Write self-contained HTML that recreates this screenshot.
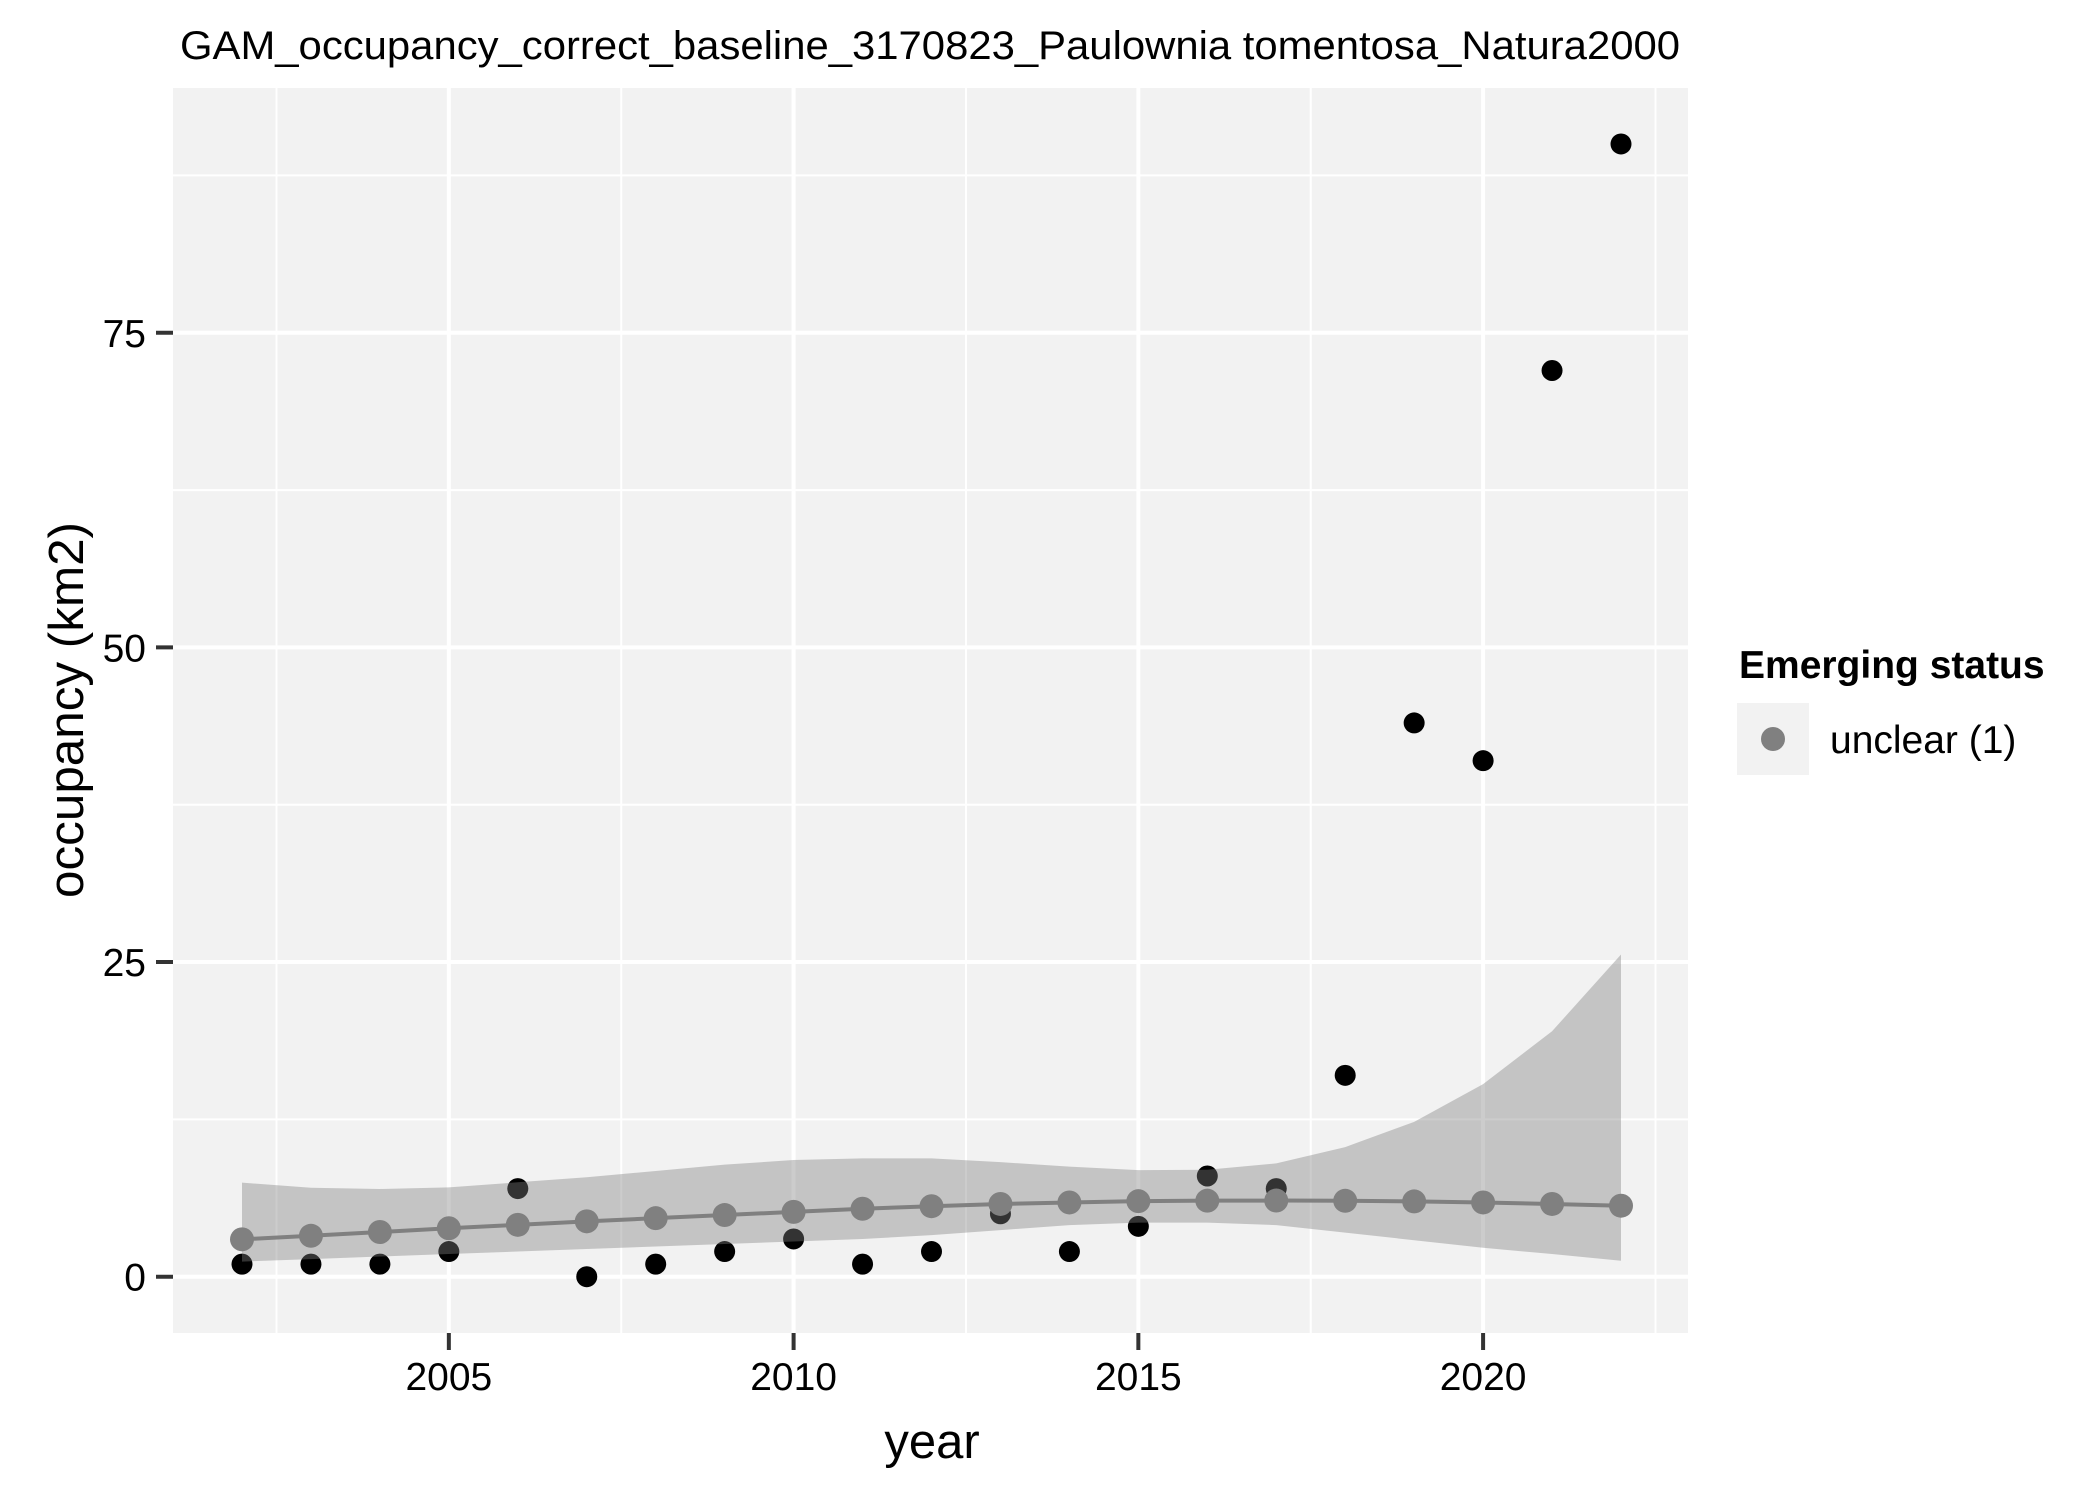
<!DOCTYPE html>
<html><head><meta charset="utf-8"><style>
html,body{margin:0;padding:0;background:#fff;}
svg{display:block;font-family:"Liberation Sans",Arial,sans-serif;}
</style></head><body>
<svg id="chart" width="2100" height="1499" viewBox="0 0 2100 1499">
<rect width="2100" height="1499" fill="#fff"/>
<text x="930" y="59" font-size="40" text-anchor="middle" textLength="1500" lengthAdjust="spacingAndGlyphs">GAM_occupancy_correct_baseline_3170823_Paulownia tomentosa_Natura2000</text>
<rect x="173" y="88" width="1515" height="1245" fill="#f2f2f2"/>
<g id="grid"></g>
<g id="obs"></g>
<g id="ribbon"></g>
<g id="fit"></g>
<g id="axes"></g>
<text x="932" y="1458" font-size="49" text-anchor="middle">year</text>
<text transform="translate(83,710) rotate(-90)" font-size="49" text-anchor="middle" textLength="376" lengthAdjust="spacingAndGlyphs">occupancy (km2)</text>
<g>
<text x="1739" y="678" font-size="39" font-weight="bold">Emerging status</text>
<rect x="1737" y="703" width="72" height="72" fill="#f2f2f2"/>
<circle cx="1773" cy="739" r="12" fill="#808080"/>
<text x="1830" y="753" font-size="39">unclear (1)</text>
</g>
</svg>
<script>
const years = [2002,2003,2004,2005,2006,2007,2008,2009,2010,2011,2012,2013,2014,2015,2016,2017,2018,2019,2020,2021,2022];
const observed = [1,1,1,2,7,0,1,2,3,1,2,5,2,4,8,7,16,44,41,72,90];
const fitted = [2.97,3.25,3.55,3.85,4.12,4.4,4.65,4.9,5.15,5.4,5.6,5.78,5.9,6.0,6.04,6.05,6.03,5.98,5.9,5.78,5.64];
const upper = [7.47,7.07,6.97,7.1,7.5,7.9,8.4,8.9,9.27,9.4,9.4,9.1,8.75,8.47,8.5,9.0,10.3,12.3,15.3,19.5,25.6];
const lower = [1.2,1.4,1.6,1.8,2.0,2.2,2.4,2.6,2.8,3.0,3.3,3.7,4.1,4.3,4.3,4.1,3.5,2.9,2.3,1.8,1.27];
const xTicks = [2005,2010,2015,2020];
const xMinor = [2002.5,2007.5,2012.5,2017.5,2022.5];
const yTicks = [0,25,50,75];
const yMinor = [12.5,37.5,62.5,87.5];

const NS = 'http://www.w3.org/2000/svg';
const PL=173, PR=1688, PT=88, PB=1333;
const X = v => 242 + (v-2002)*68.95;
const Y = v => 1276.7 - v*12.586;
function mk(tag, attrs, parent){const e=document.createElementNS(NS,tag);for(const k in attrs)e.setAttribute(k,attrs[k]);parent.appendChild(e);return e;}

const grid=document.getElementById('grid');
xMinor.forEach(v=>{const l=mk('line',{x1:X(v),x2:X(v),y1:PT,y2:PB,stroke:'#fff','stroke-width':2},grid);

});
yMinor.forEach(v=>{const l=mk('line',{x1:PL,x2:PR,y1:Y(v),y2:Y(v),stroke:'#fff','stroke-width':2},grid);

});
xTicks.forEach(v=>{const l=mk('line',{x1:X(v),x2:X(v),y1:PT,y2:PB,stroke:'#fff','stroke-width':4},grid);

});
yTicks.forEach(v=>{const l=mk('line',{x1:PL,x2:PR,y1:Y(v),y2:Y(v),stroke:'#fff','stroke-width':4},grid);

});

const obs=document.getElementById('obs');
years.forEach((yr,i)=>{const c=mk('circle',{cx:X(yr),cy:Y(observed[i]),r:10.5,fill:'#000'},obs);

});

const rib=document.getElementById('ribbon');
let d='M'+years.map((yr,i)=>X(yr)+','+Y(upper[i])).join(' L');
for(let i=years.length-1;i>=0;i--) d+=' L'+X(years[i])+','+Y(lower[i]);
d+=' Z';
const rp=mk('path',{d:d,fill:'#808080','fill-opacity':0.4},rib);



const fit=document.getElementById('fit');
const fl=mk('polyline',{points:years.map((yr,i)=>X(yr)+','+Y(fitted[i])).join(' '),fill:'none',stroke:'#808080','stroke-width':4},fit);


years.forEach((yr,i)=>{const c=mk('circle',{cx:X(yr),cy:Y(fitted[i]),r:12,fill:'#808080'},fit);

});

const ax=document.getElementById('axes');
xTicks.forEach(v=>{
 const t=mk('line',{x1:X(v),x2:X(v),y1:PB,y2:PB+17,stroke:'#333','stroke-width':4},ax);
 
 
 const tx=mk('text',{x:X(v),y:1390,'font-size':39,'text-anchor':'middle',fill:'#000'},ax);
 tx.textContent=v;
 
 
});
yTicks.forEach(v=>{
 const t=mk('line',{x1:PL-17,x2:PL,y1:Y(v),y2:Y(v),stroke:'#333','stroke-width':4},ax);
 
 
 const tx=mk('text',{x:146,y:Y(v)+14,'font-size':39,'text-anchor':'end',fill:'#000'},ax);
 tx.textContent=v;
 
 
});
</script>
</body></html>
